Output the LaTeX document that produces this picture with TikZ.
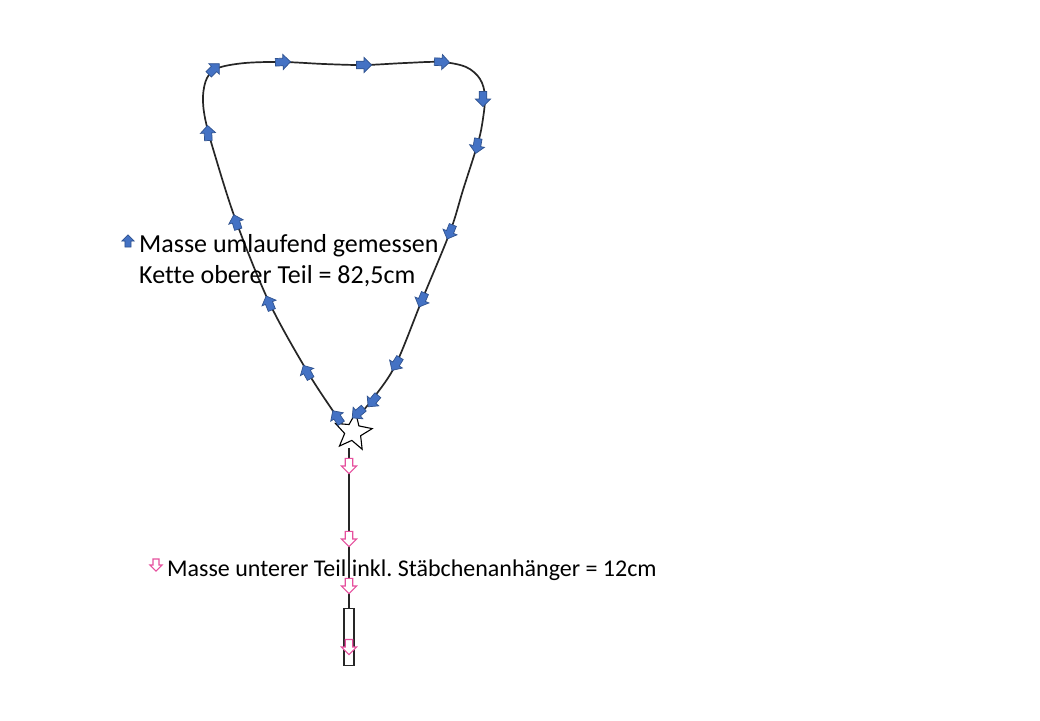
\documentclass[tikz,border=0pt]{standalone}
\usepackage{fontspec}
\setmainfont[Ligatures=NoCommon]{Carlito}
\usetikzlibrary{shapes.geometric}
\definecolor{bfill}{HTML}{4472C4}
\definecolor{bdraw}{HTML}{2F528F}
\definecolor{pinkc}{HTML}{E6509E}
\tikzset{
  blockarrow/.pic={\path[pic actions] (-7,-3.5) -- (0,-3.5) -- (0,-7) -- (7,0) -- (0,7) -- (0,3.5) -- (-7,3.5) -- cycle;},
  bluearr/.style={fill=bfill,draw=bdraw,line width=0.7pt,scale=1.08},
  pinkarr/.style={fill=white,draw=pinkc,line width=1.1pt,scale=1.08},
  chain/.style={draw=black!85,line width=1.7pt},
  lbl/.style={anchor=base west,inner sep=0pt,text=black}
}
\begin{document}
\frenchspacing
\begin{tikzpicture}[x=1pt,y=-1pt]
\useasboundingbox[fill=white] (0,0) rectangle (1040,720);
% upper chain loop
\draw[chain] plot[smooth,tension=0.55] coordinates {
 (343,426) (335,414) (307,371) (269,302) (236,221) (214,152) (205,118) (203,96) (207,78) (218,68)
 (245,63) (283,62) (324,64) (364,65) (405,63) (441,62) (466,67) (480,79) (485,97) (482,125)
 (477,146) (463,190) (450,232) (422,300) (396,364) (375,396) (361,413)};
% lower chain
\coordinate (lowtop) at (349,448);
\coordinate (lowbot) at (349,608);
\draw[draw=black!85,line width=1.4pt] (lowtop) -- (lowbot);
\node[draw=black!85,fill=white,line width=1.1pt,minimum width=10pt,minimum height=57pt,inner sep=0pt,anchor=north] (stick) at (lowbot) {};
% star
\node[star,star points=5,star point ratio=2.3,minimum size=39pt,inner sep=0pt,draw=black,fill=white,line width=1.1pt,rotate=-8] (star) at (353,432) {};
% blue arrows
\foreach \x/\y/\a in {337/417/124, 307/372/119, 269/303/112, 236/222/107, 208/133/93, 214/69/45,
  283/62/2, 364/65/0, 442/62/-3, 483/99/-90, 477/146/-100, 450/232/-112, 422/300/-113,
  396/364/-122, 373/401/-130, 358/413/-140}
  \pic[bluearr,rotate=\a] at (\x,\y) {blockarrow};
% pink arrows
\foreach \y in {466,539,586,647}
  \pic[pinkarr,rotate=-90] at (349,\y) {blockarrow};
% legend
\pic[bluearr,rotate=90,scale=0.8] at (128,241) {blockarrow};
\node[lbl,font=\fontsize{26}{31}\selectfont] (l1) at (139,252) {Masse umlaufend gemessen};
\node[lbl,font=\fontsize{26}{31}\selectfont] (l2) at (139,283) {Kette oberer Teil = 82,5cm};
\pic[pinkarr,rotate=-90,scale=0.8] at (156,565) {blockarrow};
\node[lbl,font=\fontsize{24}{29}\selectfont] (l3) at (167,576) {Masse unterer Teil inkl. Stäbchenanhänger = 12cm};
\end{tikzpicture}
\end{document}
